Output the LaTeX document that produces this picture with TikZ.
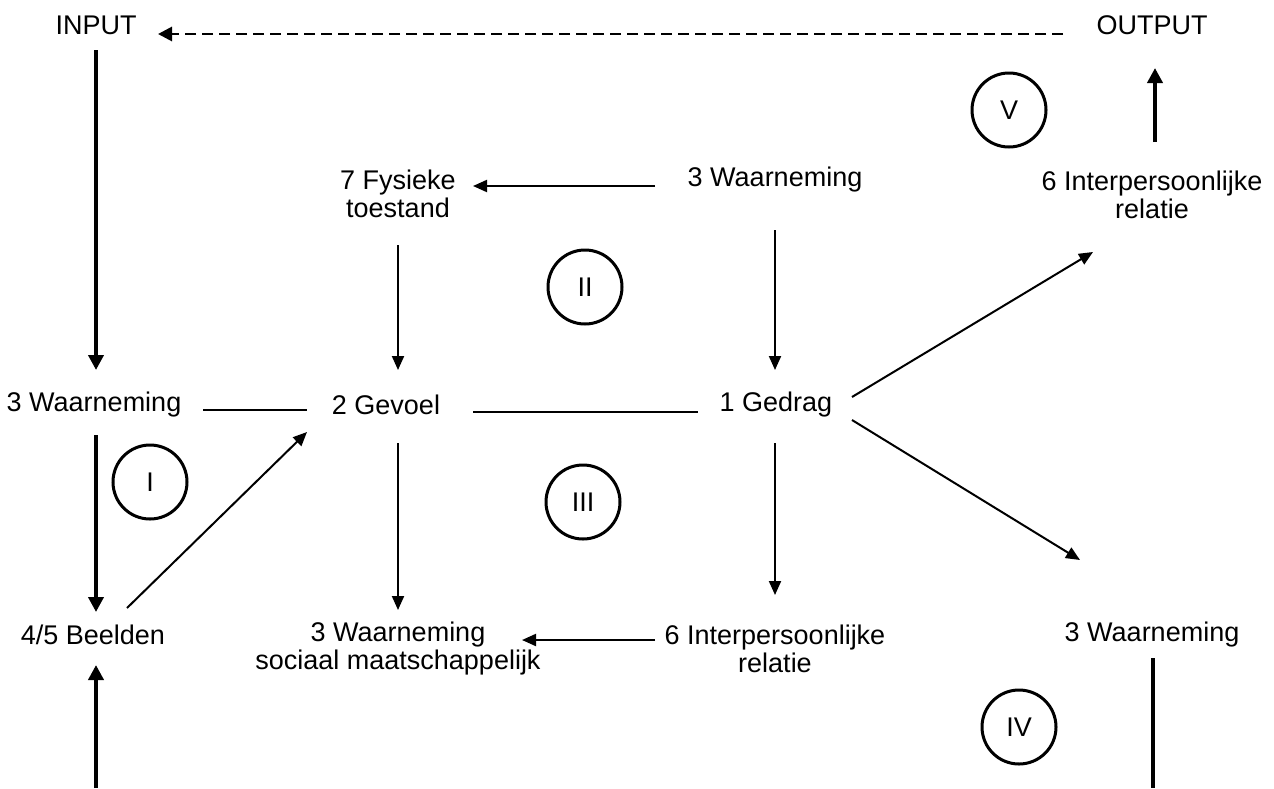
\documentclass[tikz,border=0pt]{standalone}
\usepackage{fontspec}
\setmainfont{Liberation Sans}
\usetikzlibrary{arrows.meta,calc}
\begin{document}
\begin{tikzpicture}[x=0.5pt,y=-0.5pt,
  lbl/.style={inner sep=0pt,align=center,font=\fontsize{13.5}{14}\selectfont},
  ring/.style={circle,draw,line width=1.5pt,minimum size=37pt,inner sep=0pt,font=\fontsize{13.5}{14}\selectfont},
  thinarr/.style={line width=1pt,-{Triangle[length=7pt,width=6pt]}},
  thickarr/.style={line width=2.2pt,-{Triangle[length=7.5pt,width=7.5pt]}},
  thinline/.style={line width=1pt},
  thickline/.style={line width=2.2pt},
  dasharr/.style={line width=1.4pt,dash pattern=on 5.5pt off 3pt,-{Triangle[length=7pt,width=7pt]}}]
\useasboundingbox (0,0) rectangle (1274,788);
% text nodes
\node[lbl] (in)  at (96,25)   {INPUT};
\node[lbl] (out) at (1152,25) {OUTPUT};
\node[lbl] (w3l) at (94,405)  {3 Waarneming};
\node[lbl] (gev) at (386,405) {2 Gevoel};
\node[lbl] (ged) at (776,405) {1 Gedrag};
\node[lbl] (fys) at (398,194) {7 Fysieke\\toestand};
\node[lbl] (w3t) at (775,180) {3 Waarneming};
\node[lbl] (ipt) at (1152,195) {6 Interpersoonlijke\\relatie};
\node[lbl] (bld) at (93,635)  {4/5 Beelden};
\node[lbl] (w3s) at (398,649) {3 Waarneming\\sociaal maatschappelijk};
\node[lbl] (ipb) at (775,649) {6 Interpersoonlijke\\relatie};
\node[lbl] (w3r) at (1152,635) {3 Waarneming};
% circles
\node[ring] (c1) at (150,482)  {I};
\node[ring] (c2) at (585,287)  {II};
\node[ring] (c3) at (583,502)  {III};
\node[ring] (c4) at (1019,727) {IV};
\node[ring] (c5) at (1009,110) {V};
% free ends
\coordinate (bl) at (96,788);
\coordinate (br) at (1153,788);
% connectors
\draw[dasharr] ($(out)+(-89,9)$) -- ($(in)+(62,9)$);
\draw[thickarr] ($(in)+(0,25)$) -- ($(w3l)+(2,-35)$);
\draw[thinline] ($(w3l)+(109,5)$) -- ($(gev)+(-79,5)$);
\draw[thinline] ($(gev)+(87,7)$) -- ($(ged)+(-78,7)$);
\draw[thinarr] ($(w3t)+(-120,6)$) -- ($(fys)+(75,-8)$);
\draw[thinarr] ($(fys)+(0,51)$) -- ($(gev)+(12,-35)$);
\draw[thinarr] ($(w3t)+(0,50)$) -- ($(ged)+(-1,-35)$);
\draw[thinarr] ($(ged)+(76,-8)$) -- ($(ipt)+(-59,57)$);
\draw[thinarr] ($(ged)+(76,15)$) -- ($(w3r)+(-72,-75)$);
\draw[thickarr] ($(ipt)+(3,-53)$) -- ($(out)+(3,43)$);
\draw[thickarr] ($(w3l)+(2,30)$) -- ($(bld)+(3,-23)$);
\draw[thinarr] ($(bld)+(34,-27)$) -- ($(gev)+(-79,27)$);
\draw[thinarr] ($(gev)+(12,38)$) -- ($(w3s)+(0,-39)$);
\draw[thinarr] ($(ged)+(-1,38)$) -- ($(ipb)+(0,-54)$);
\draw[thinarr] ($(ipb)+(-120,-9)$) -- ($(w3s)+(124,-9)$);
\draw[thickarr] (bl) -- ($(bld)+(3,30)$);
\draw[thickline] ($(w3r)+(1,23)$) -- (br);
\end{tikzpicture}
\end{document}
